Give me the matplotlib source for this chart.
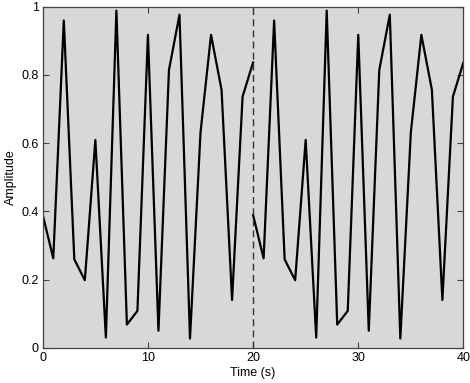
import matplotlib
matplotlib.use("Agg")
import matplotlib.pyplot as plt
import numpy as np

plt.rcParams['font.family'] = ['Liberation Sans', 'DejaVu Sans']

# one period of the signal (samples at t = 0..20)
amplitude = [0.389, 0.262, 0.959, 0.259, 0.198, 0.609, 0.030, 0.988, 0.068, 0.108,
             0.917, 0.050, 0.814, 0.976, 0.027, 0.631, 0.917, 0.756, 0.140, 0.736, 0.836]
t_first = list(range(0, 21))
t_second = list(range(20, 41))
split_time = 20
x_ticks = [0, 10, 20, 30, 40]
y_ticks = [0, 0.2, 0.4, 0.6, 0.8, 1]
y_tick_labels = ['0', '0.2', '0.4', '0.6', '0.8', '1']

fig = plt.figure(figsize=(4.70, 3.83), dpi=100)
ax = fig.add_axes([0.091, 0.092, 0.895, 0.891])
ax.set_facecolor('#d8d8d8')

ax.plot(t_first, amplitude, color='black', lw=1.6)
ax.plot(t_second, amplitude, color='black', lw=1.6)
ax.axvline(split_time, color='#333333', lw=1.0, ls=(0, (5, 3)))

ax.set_xlim(0, 40)
ax.set_ylim(0, 1)
ax.set_xticks(x_ticks)
ax.set_yticks(y_ticks)
ax.set_yticklabels(y_tick_labels)
ax.tick_params(direction='in', top=True, right=True, labelsize=9, length=4,
               color='#444444', width=0.8, pad=3)
for s in ax.spines.values():
    s.set_color('#444444')
    s.set_linewidth(0.9)

ax.set_xlabel('Time (s)', fontsize=9, labelpad=2)
ax.set_ylabel('Amplitude', fontsize=9, labelpad=3)

fig.savefig('out.png', dpi=100, facecolor='white')
